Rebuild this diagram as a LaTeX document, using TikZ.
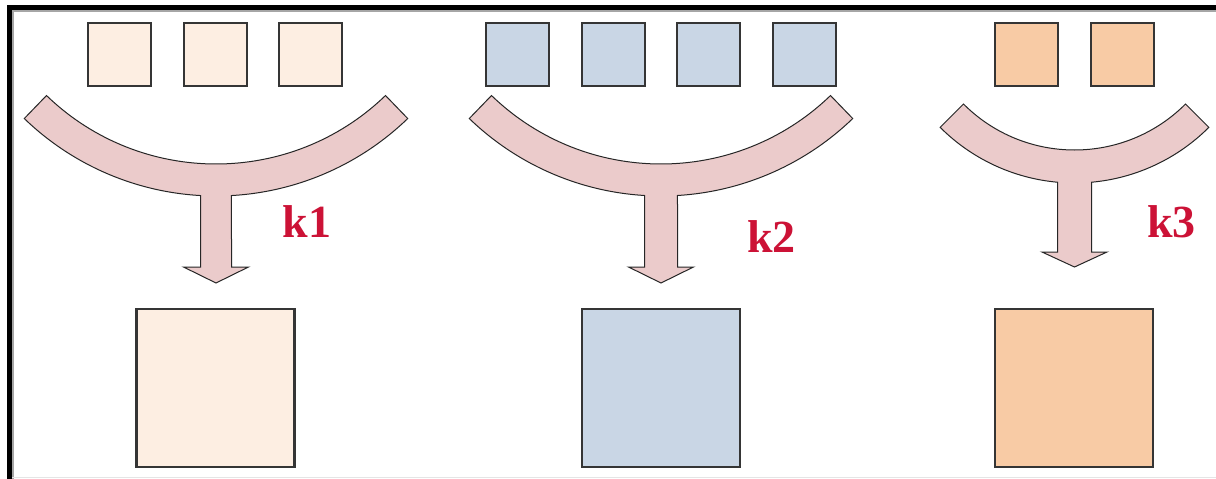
\documentclass[tikz,border=0pt]{standalone}
\usepackage{fontspec}
\setmainfont{Liberation Serif}
\usetikzlibrary{calc}
\definecolor{peachA}{HTML}{FDEEE2}
\definecolor{blueB}{HTML}{C9D6E5}
\definecolor{orangeC}{HTML}{F8CBA5}
\definecolor{bandfill}{HTML}{EBCBCB}
\definecolor{edgegray}{HTML}{353535}
\definecolor{labelred}{HTML}{CC1236}
\tikzset{
  smallsq/.style={draw=edgegray, line width=2pt, minimum size=63pt, inner sep=0pt, outer sep=0pt},
  bigsq/.style={draw=edgegray, line width=2.2pt, minimum size=158pt, inner sep=0pt, outer sep=0pt},
  band/.style={draw=black!85, fill=bandfill, line width=1pt, line join=miter},
  klabel/.style={text=labelred, font=\fontsize{46}{46}\selectfont\bfseries, anchor=base, inner sep=0pt},
}
% #1 cx, #2 cy (tikz), #3 r, #4 R, #5 alpha, #6 half stem, #7 shoulder y, #8 half head, #9 tip y
\newcommand{\ybranch}[9]{%
  \pgfmathsetmacro{\bb}{asin(#6/#4)}%
  \draw[band] ($(#1,#2)+(270-#5:#3)$) arc[start angle=270-#5, end angle=270+#5, radius=#3]
    -- ($(#1,#2)+(270+#5:#4)$) arc[start angle=270+#5, end angle=270+\bb, radius=#4]
    -- (#1+#6,#7) -- (#1+#8,#7) -- (#1,#9) -- (#1-#8,#7) -- (#1-#6,#7)
    -- ($(#1,#2)+(270-\bb:#4)$) arc[start angle=270-\bb, end angle=270-#5, radius=#4] -- cycle;
}
\begin{document}
\begin{tikzpicture}[x=1pt,y=1pt]
\useasboundingbox (0,0) rectangle (1216,-479);
\fill[white] (0,0) rectangle (1216,-479);
% frame
\draw[line width=1.5pt, black!35] (12,-11) -- (1216,-11);
\draw[line width=1.5pt, black!35] (13,-11) -- (13,-479);
\draw[line width=4.5pt, black] (7,-7.5) -- (1216,-7.5);
\draw[line width=4.5pt, black] (9.5,-5.3) -- (9.5,-479);
\draw[line width=1.2pt, black!10] (12,-477.5) -- (1216,-477.5);

% group 1
\node[smallsq, fill=peachA] (a1) at (119.5,-54.5) {};
\node[smallsq, fill=peachA] (a2) at (215,-54.5) {};
\node[smallsq, fill=peachA] (a3) at (310.5,-54.5) {};
\ybranch{216}{80}{244}{276}{44}{15.5}{-267}{32.5}{-283}
\node[bigsq, fill=peachA] (A) at (215.5,-388) {};
\node[klabel] (k1) at (307,-237) {k1};

% group 2
\node[smallsq, fill=blueB] (b1) at (517.5,-54.5) {};
\node[smallsq, fill=blueB] (b2) at (613.5,-54.5) {};
\node[smallsq, fill=blueB] (b3) at (708.5,-54.5) {};
\node[smallsq, fill=blueB] (b4) at (804,-54.5) {};
\ybranch{661}{80}{244}{276}{44}{16.5}{-267}{32.5}{-283}
\node[bigsq, fill=blueB] (B) at (661,-388) {};
\node[klabel] (k2) at (771.5,-252) {k2};

% group 3
\node[smallsq, fill=orangeC] (c1) at (1026.5,-54.5) {};
\node[smallsq, fill=orangeC] (c2) at (1122,-54.5) {};
\ybranch{1074.5}{7}{157}{190}{45}{17}{-252}{32.5}{-267}
\node[bigsq, fill=orangeC] (C) at (1074,-388) {};
\node[klabel] (k3) at (1171.5,-237) {k3};
\end{tikzpicture}
\end{document}
